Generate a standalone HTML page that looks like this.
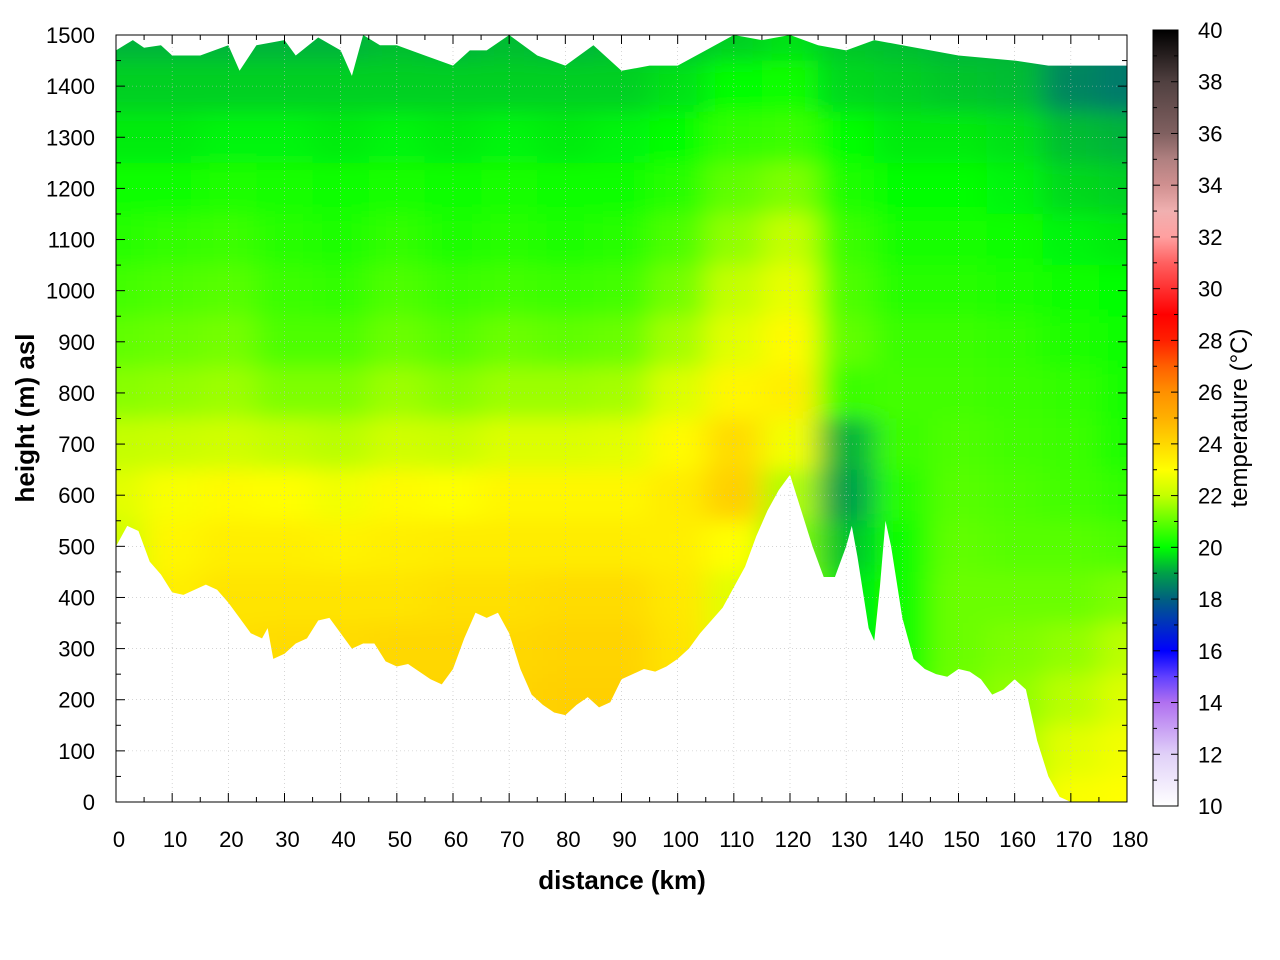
<!DOCTYPE html>
<html><head><meta charset="utf-8"><style>
html,body{margin:0;padding:0;background:#fff;width:1280px;height:960px;overflow:hidden}
svg text{font-family:"Liberation Sans",sans-serif;fill:#000}
</style></head><body>
<svg id="chart" width="1280" height="960" xmlns="http://www.w3.org/2000/svg">
<defs>
<filter id="blur" x="-10%" y="-10%" width="120%" height="120%"><feGaussianBlur stdDeviation="14 10"/></filter>
<clipPath id="plotclip"><rect x="116" y="35" width="1011" height="767"/></clipPath>
<linearGradient id="cbgrad" x1="0" y1="1" x2="0" y2="0"></linearGradient>
</defs>
<g id="heat"></g>
<g id="grid"></g>
<g id="axes"></g>
<g id="cbar"></g>
</svg>
<script>
// ---- data ----
const distances = [0,10,20,30,40,50,60,70,80,90,100,110,120,130,140,150,160,170,180];
const heights = [1500,1400,1300,1200,1100,1000,900,800,700,600,500,400,300,200,100,0];
const temps = [
[19.2,19.2,19.2,19.2,19.2,19.3,19.2,19.3,19.2,19.3,19.3,19.5,19.7,19.4,19.3,19.2,19.2,18.7,18.4],
[19.5,19.5,19.5,19.5,19.5,19.5,19.5,19.5,19.5,19.5,19.7,20.0,20.1,19.6,19.5,19.4,19.3,18.6,18.4],
[19.8,19.8,19.9,19.9,19.8,19.9,19.8,19.9,19.8,19.9,20.0,20.5,20.6,20.0,19.8,19.8,19.7,19.3,19.2],
[20.1,20.1,20.3,20.2,20.1,20.2,20.1,20.2,20.1,20.1,20.4,21.0,21.3,20.3,20.0,20.0,19.9,19.6,19.5],
[20.4,20.5,20.6,20.4,20.3,20.5,20.3,20.4,20.3,20.4,20.8,21.5,22.0,20.6,20.2,20.2,20.1,19.9,19.8],
[20.7,20.8,20.9,20.6,20.5,20.8,20.6,20.7,20.6,20.7,21.2,22.0,22.6,20.8,20.4,20.4,20.3,20.1,20.0],
[21.0,21.1,21.2,20.8,20.8,21.1,20.9,21.1,21.0,21.1,21.7,22.5,23.1,21.0,20.6,20.6,20.5,20.3,20.1],
[21.4,21.5,21.6,21.3,21.3,21.6,21.4,21.6,21.6,21.7,22.4,23.2,23.4,20.6,20.7,20.7,20.6,20.5,20.2],
[22.0,22.1,22.2,22.0,21.9,22.2,22.1,22.4,22.4,22.5,23.1,23.9,22.8,19.2,20.6,20.8,20.7,20.6,20.3],
[22.5,22.9,23.1,23.0,22.8,23.1,23.0,23.2,23.2,23.2,23.5,24.2,21.8,19.0,20.4,20.9,20.8,20.7,20.5],
[22.2,23.2,23.4,23.4,23.3,23.4,23.5,23.5,23.5,23.5,23.4,23.0,21.3,19.4,20.1,21.0,20.9,20.9,20.8],
[22.0,23.4,23.7,23.7,23.7,23.7,23.8,23.8,23.9,23.9,23.6,22.5,21.3,19.8,20.1,21.1,21.1,21.1,21.3],
[22.0,23.5,23.8,23.9,23.9,24.0,24.0,24.0,24.1,24.1,23.7,22.5,21.3,19.8,20.1,21.1,21.3,21.5,21.9],
[22.0,23.5,23.9,24.0,24.0,24.1,24.1,24.1,24.2,24.2,23.8,22.5,21.3,19.8,20.2,21.2,21.5,21.9,22.4],
[22.0,23.5,23.9,24.0,24.0,24.1,24.1,24.1,24.2,24.2,23.8,22.5,21.3,19.8,20.2,21.3,21.8,22.5,22.8],
[22.0,23.5,23.9,24.0,24.0,24.1,24.1,24.1,24.2,24.2,23.8,22.5,21.3,19.8,20.2,21.3,21.9,22.9,23.0]
];
const terrainKm = [0,2,4,6,8,10,12,14,16,18,20,22,24,26,27,28,30,32,34,36,38,40,42,44,46,48,50,52,54,56,58,60,62,64,66,68,70,72,74,76,78,80,82,84,86,88,90,92,94,96,98,100,102,104,106,108,110,112,114,116,118,120,122,124,126,128,130,131,132,134,135,136,137,138,140,142,144,146,148,150,152,154,156,158,160,162,164,166,168,170,175,180];
const terrainM = [500,540,530,470,445,410,405,415,425,415,390,360,330,320,340,280,290,310,320,355,360,330,300,310,310,275,265,270,255,240,230,260,320,370,360,370,330,260,210,190,175,170,190,205,185,195,240,250,260,255,265,280,300,330,355,380,420,460,520,570,610,640,570,500,440,440,500,540,480,340,315,420,550,500,360,280,260,250,245,260,255,240,210,220,240,220,120,50,10,0,0,0];
const topKm = [0,3,5,8,10,15,20,22,25,30,32,36,40,42,44,47,50,55,60,63,66,70,75,80,85,90,95,100,105,110,115,120,125,130,135,140,150,160,166,180];
const topM = [1470,1490,1475,1480,1460,1460,1480,1430,1480,1490,1460,1495,1470,1420,1500,1480,1480,1460,1440,1470,1470,1500,1460,1440,1480,1430,1440,1440,1470,1500,1490,1500,1480,1470,1490,1480,1460,1450,1440,1440];
const xTicks = [0,10,20,30,40,50,60,70,80,90,100,110,120,130,140,150,160,170,180];
const yTicks = [0,100,200,300,400,500,600,700,800,900,1000,1100,1200,1300,1400,1500];
const cbTicks = [10,12,14,16,18,20,22,24,26,28,30,32,34,36,38,40];
const cmapT = [10,12,14,15,16,17,18,19,20,21,22,23,24,25,26,27,28,29,30,31,32,33,34,35,36,38,40];
const cmapC = ['#ffffff','#e0d0f8','#b070f0','#6040ff','#0000ff','#0030c0','#006080','#00a048','#00ff00','#60ff00','#c4ff00','#ffff00','#ffd800','#ffb000','#ff9000','#ff6000','#ff2000','#ff0000','#ff3030','#ff6060','#ffa0a0','#f0b0b0','#d09090','#b08080','#806060','#504040','#000000'];

// ---- scales ----
const X0=116,X1=1127,Y0=802,Y1=35;
const xs = km => X0 + km/180*(X1-X0);
const ys = m => Y0 - m/1500*(Y0-Y1);
function hex(c){return [parseInt(c.slice(1,3),16),parseInt(c.slice(3,5),16),parseInt(c.slice(5,7),16)];}
function color(t){
  if(t<=cmapT[0]) return cmapC[0];
  for(let i=1;i<cmapT.length;i++){ if(t<=cmapT[i]){ const f=(t-cmapT[i-1])/(cmapT[i]-cmapT[i-1]); const a=hex(cmapC[i-1]),b=hex(cmapC[i]); return 'rgb('+a.map((v,k)=>Math.round(v+(b[k]-v)*f)).join(',')+')'; } }
  return cmapC[cmapC.length-1];
}
const NS='http://www.w3.org/2000/svg';
function mk(tag,attrs,parent){const e=document.createElementNS(NS,tag);for(const k in attrs)e.setAttribute(k,attrs[k]);parent.appendChild(e);return e;}

// ---- heatmap ----
const heat=document.getElementById('heat');
const clipP = mk('clipPath',{id:'terrclip'},document.querySelector('defs'));
let d='M'+xs(terrainKm[0])+','+ys(terrainM[0]);
for(let i=1;i<terrainKm.length;i++) d+=' L'+xs(terrainKm[i])+','+ys(terrainM[i]);
for(let i=topKm.length-1;i>=0;i--) d+=' L'+xs(topKm[i])+','+ys(topM[i]);
d+='Z';
mk('path',{d:d},clipP);
const outer=mk('g',{'clip-path':'url(#terrclip)'},heat);
const inner=mk('g',{filter:'url(#blur)'},outer);
const dkm=10, dm=100;
for(let r=0;r<heights.length;r++){
  for(let c=0;c<distances.length;c++){
    let k0=distances[c]-dkm/2, k1=distances[c]+dkm/2, m0=heights[r]-dm/2, m1=heights[r]+dm/2;
    if(c===0)k0-=30; if(c===distances.length-1)k1+=30;
    if(r===0)m1+=200; if(r===heights.length-1)m0-=200;
    const rc=mk('rect',{x:xs(k0),y:ys(m1),width:xs(k1)-xs(k0)+0.5,height:ys(m0)-ys(m1)+0.5,fill:color(temps[r][c])},inner);
    
    
  }
}

// ---- grid ----
const grid=document.getElementById('grid');
xTicks.forEach(t=>{ if(t>0&&t<180){ const l=mk('line',{x1:xs(t),x2:xs(t),y1:Y1,y2:Y0,stroke:'#bbb','stroke-width':0.6,'stroke-dasharray':'1,3'},grid);   }});
yTicks.forEach(t=>{ if(t>0&&t<1500){ const l=mk('line',{x1:X0,x2:X1,y1:ys(t),y2:ys(t),stroke:'#bbb','stroke-width':0.6,'stroke-dasharray':'1,3'},grid);   }});

// ---- axes ----
const axes=document.getElementById('axes');
mk('rect',{x:X0,y:Y1,width:X1-X0,height:Y0-Y1,fill:'none',stroke:'#000','stroke-width':1},axes);
for(let k=0;k<=180;k+=5){ const L=k%10===0?9:5;
  mk('line',{x1:xs(k),x2:xs(k),y1:Y0,y2:Y0-L,stroke:'#000'},axes);
  mk('line',{x1:xs(k),x2:xs(k),y1:Y1,y2:Y1+L,stroke:'#000'},axes);}
for(let m=0;m<=1500;m+=50){ const L=m%100===0?9:5;
  mk('line',{x1:X0,x2:X0+L,y1:ys(m),y2:ys(m),stroke:'#000'},axes);
  mk('line',{x1:X1,x2:X1-L,y1:ys(m),y2:ys(m),stroke:'#000'},axes);}
xTicks.forEach(t=>{const e=mk('text',{x:xs(t)+3,y:847,'font-size':22,'text-anchor':'middle'},axes);e.textContent=t;
  
  });
yTicks.forEach(t=>{const e=mk('text',{x:95,y:ys(t)+8,'font-size':22,'text-anchor':'end'},axes);e.textContent=t;
  
  });
let xt=mk('text',{x:622,y:889,'font-size':26,'font-weight':'bold','text-anchor':'middle'},axes);xt.textContent='distance (km)';


let yt=mk('text',{x:0,y:0,'font-size':26,'font-weight':'bold','text-anchor':'middle',transform:'translate(34,418) rotate(-90)'},axes);yt.textContent='height (m) asl';



// ---- colorbar ----
const cb=document.getElementById('cbar');
const grad=document.getElementById('cbgrad');
cmapT.forEach((t,i)=>mk('stop',{offset:((t-10)/30*100)+'%','stop-color':cmapC[i]},grad));
const CB0=806,CB1=30,CX0=1153,CX1=1178;
const cy=t=>CB0-(t-10)/30*(CB0-CB1);
mk('rect',{x:CX0,y:CB1,width:CX1-CX0,height:CB0-CB1,fill:'url(#cbgrad)',stroke:'#000','stroke-width':1},cb);
for(let t=10;t<=40;t+=1){ const L=t%2===0?7:4; if(t>10&&t<40){
  mk('line',{x1:CX0,x2:CX0+L,y1:cy(t),y2:cy(t),stroke:'#000'},cb);
  mk('line',{x1:CX1,x2:CX1-L,y1:cy(t),y2:cy(t),stroke:'#000'},cb);}}
cbTicks.forEach(t=>{const e=mk('text',{x:1198,y:cy(t)+8,'font-size':22},cb);e.textContent=t;
  
  });
let ct=mk('text',{x:0,y:0,'font-size':24,'text-anchor':'middle',transform:'translate(1247,418) rotate(-90)'},cb);ct.textContent='temperature (°C)';


</script>
</body></html>
